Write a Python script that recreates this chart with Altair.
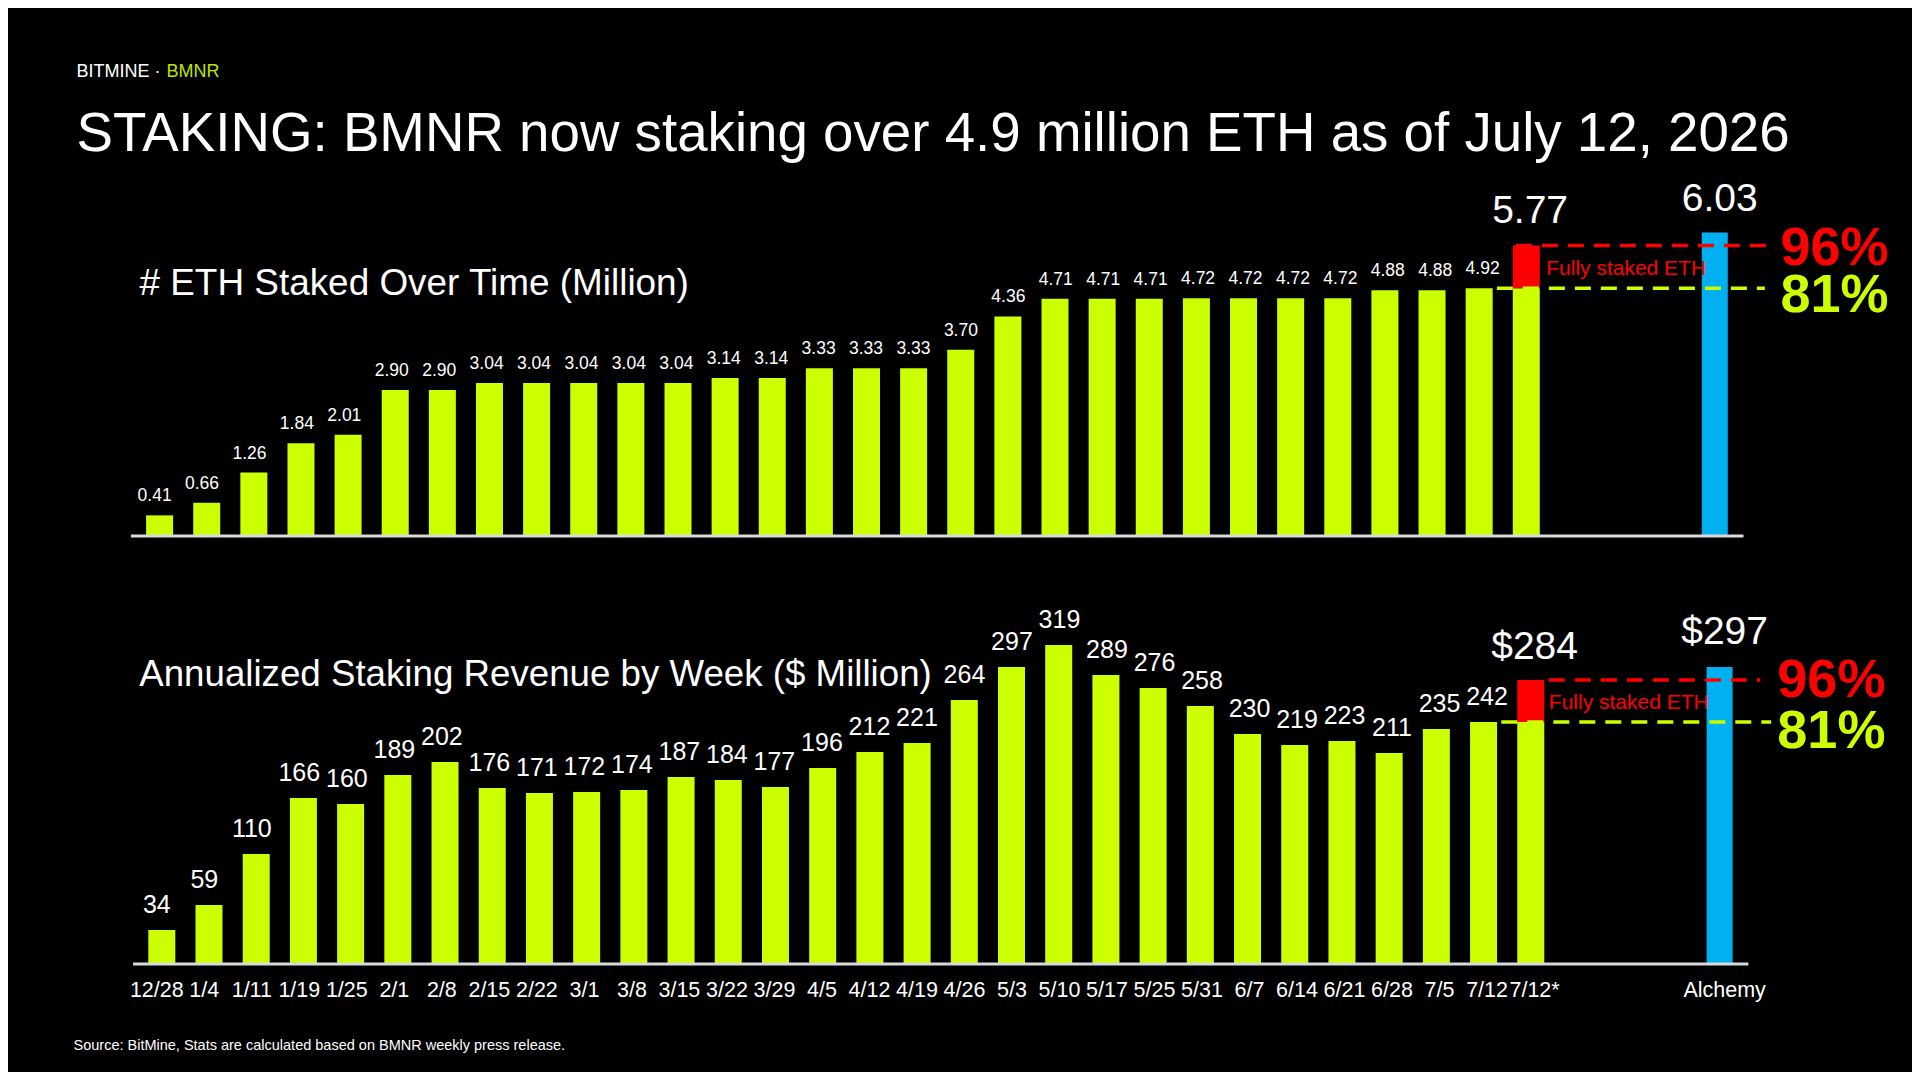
import altair as alt
import pandas as pd

# ---------------- data ----------------
weeks = ["12/28", "1/4", "1/11", "1/19", "1/25", "2/1", "2/8", "2/15", "2/22", "3/1",
         "3/8", "3/15", "3/22", "3/29", "4/5", "4/12", "4/19", "4/26", "5/3", "5/10",
         "5/17", "5/25", "5/31", "6/7", "6/14", "6/21", "6/28", "7/5", "7/12"]
eth_staked = [0.41, 0.66, 1.26, 1.84, 2.01, 2.90, 2.90, 3.04, 3.04, 3.04,
              3.04, 3.04, 3.14, 3.14, 3.33, 3.33, 3.33, 3.70, 4.36, 4.71,
              4.71, 4.71, 4.72, 4.72, 4.72, 4.72, 4.88, 4.88, 4.92]
revenue = [34, 59, 110, 166, 160, 189, 202, 176, 171, 172,
           174, 187, 184, 177, 196, 212, 221, 264, 297, 319,
           289, 276, 258, 230, 219, 223, 211, 235, 242]
latest_label = "7/12*"
eth_full = 5.77
rev_full = 284
alchemy_label = "Alchemy"
alchemy_eth = 6.03
alchemy_rev = 297
pct_full = "96%"
pct_now = "81%"

LATEST_I = len(weeks)        # 29
ALCHEMY_I = LATEST_I + 4     # 33

LIME = "#CCFF00"
RED = "#FF0000"
BLUE = "#00B0F0"
WHITE = "#FFFFFF"
FONT = "Liberation Sans"
W, H = 1904, 1064
OFF = 8


def px(v):
    return v - OFF


# scales (data -> pixels through Vega scales)
x_top = alt.Scale(domain=[0, ALCHEMY_I], range=[px(154.6), px(1719.8)], nice=False, zero=False)
y_top = alt.Scale(domain=[0, 6], range=[px(536), px(536 - 6 * 50.35)], nice=False)
x_bot = alt.Scale(domain=[0, ALCHEMY_I], range=[px(156.8), px(1724.6)], nice=False, zero=False)
y_bot = alt.Scale(domain=[0, 300], range=[px(964), px(664)], nice=False)


def X(field, sc):
    return alt.X(field, type="quantitative", scale=sc, axis=None)


def Y(field, sc):
    return alt.Y(field, type="quantitative", scale=sc, axis=None)


def text_block(txt, x, y, size, color=WHITE, weight="normal", align="left"):
    return alt.Chart(pd.DataFrame({"t": [txt]})).mark_text(
        font=FONT, fontSize=size, color=color, fontWeight=weight,
        align=align, baseline="alphabetic"
    ).encode(x=alt.value(px(x)), y=alt.value(px(y)), text="t:N")


def panel(values, full, alch, xs, ys, fmt, lab_size, lab_dy, big_labels, big_dy_latest, big_dy_alch,
          red_span, green_span, note_x, pct_x, pct_dy_full, pct_dy_now):
    out = []
    df = pd.DataFrame({"i": list(range(len(values))), "v": values})
    out.append(alt.Chart(df).mark_bar(color=LIME, size=27, orient="vertical").encode(
        x=X("i", xs), y=Y("v", ys)))
    # latest week: current staked (lime) + remaining to fully staked (red)
    ldf = pd.DataFrame({"i": [LATEST_I], "zero": [0], "lo": [values[-1]], "hi": [full],
                        "lab": [big_labels[0]]})
    out.append(alt.Chart(ldf).mark_bar(color=LIME, size=27, orient="vertical").encode(
        x=X("i", xs), y=Y("zero", ys), y2="lo"))
    out.append(alt.Chart(ldf).mark_bar(color=RED, size=27, orient="vertical").encode(
        x=X("i", xs), y=Y("lo", ys), y2="hi"))
    # alchemy bar
    adf = pd.DataFrame({"i": [ALCHEMY_I], "v": [alch], "lab": [big_labels[1]]})
    out.append(alt.Chart(adf).mark_bar(color=BLUE, size=26, orient="vertical").encode(
        x=X("i", xs), y=Y("v", ys)))
    # baseline
    bdf = pd.DataFrame({"a": [-0.5], "b": [ALCHEMY_I + 0.5], "y": [0]})
    out.append(alt.Chart(bdf).mark_rule(color="#d9d9d9", strokeWidth=3).encode(
        x=X("a", xs), x2="b", y=Y("y", ys)))
    # dashed reference lines
    rdf = pd.DataFrame({"a": [red_span[0]], "b": [red_span[1]], "y": [full]})
    out.append(alt.Chart(rdf).mark_rule(color=RED, strokeWidth=3.5, strokeDash=[16, 10]).encode(
        x=X("a", xs), x2="b", y=Y("y", ys)))
    gdf = pd.DataFrame({"a": [green_span[0]], "b": [green_span[1]], "y": [values[-1]]})
    out.append(alt.Chart(gdf).mark_rule(color=LIME, strokeWidth=3.5, strokeDash=[16, 10]).encode(
        x=X("a", xs), x2="b", y=Y("y", ys)))
    # value labels
    out.append(alt.Chart(df).mark_text(font=FONT, fontSize=lab_size, color=WHITE,
                                       baseline="alphabetic", dy=lab_dy).encode(
        x=X("i", xs), y=Y("v", ys), text=alt.Text("v:Q", format=fmt)))
    # big labels
    out.append(alt.Chart(ldf).mark_text(font=FONT, fontSize=39, color=WHITE,
                                        baseline="alphabetic", dy=big_dy_latest).encode(
        x=X("i", xs), y=Y("hi", ys), text="lab:N"))
    out.append(alt.Chart(adf).mark_text(font=FONT, fontSize=39, color=WHITE,
                                        baseline="alphabetic", dy=big_dy_alch).encode(
        x=X("i", xs), y=Y("v", ys), text="lab:N"))
    # note
    ndf = pd.DataFrame({"x": [note_x], "y": [(values[-1] + full) / 2], "t": ["Fully staked ETH"]})
    out.append(alt.Chart(ndf).mark_text(font=FONT, fontSize=21, color=RED, align="left",
                                        baseline="middle", dy=2).encode(
        x=X("x", xs), y=Y("y", ys), text="t:N"))
    # percentages
    pdf1 = pd.DataFrame({"x": [pct_x], "y": [full], "t": [pct_full]})
    out.append(alt.Chart(pdf1).mark_text(font=FONT, fontSize=54, fontWeight="bold", color=RED,
                                         align="left", baseline="middle", dy=pct_dy_full).encode(
        x=X("x", xs), y=Y("y", ys), text="t:N"))
    pdf2 = pd.DataFrame({"x": [pct_x], "y": [values[-1]], "t": [pct_now]})
    out.append(alt.Chart(pdf2).mark_text(font=FONT, fontSize=54, fontWeight="bold", color=LIME,
                                         align="left", baseline="middle", dy=pct_dy_now).encode(
        x=X("x", xs), y=Y("y", ys), text="t:N"))
    return out


layers = []
layers += panel(eth_staked, eth_full, alchemy_eth, x_top, y_top, ".2f", 17.5, -14,
                [format(eth_full, ".2f"), format(alchemy_eth, ".2f")],
                -22, -21, (28.7, 34.0), (28.3, 33.95), 29.34, 34.28, 4, 8)
layers += panel(revenue, rev_full, alchemy_rev, x_bot, y_bot, "d", 25, -17,
                ["$" + str(rev_full), "$" + str(alchemy_rev)],
                -21, -23, (29.3, 33.75), (28.3, 33.98), 29.30, 34.11, 1, 10)

# x-axis labels (bottom panel)
xl = pd.DataFrame({"i": list(range(len(weeks))) + [LATEST_I, ALCHEMY_I],
                   "t": weeks + [latest_label, alchemy_label]})
layers.append(alt.Chart(xl).mark_text(font=FONT, fontSize=21.5, color=WHITE,
                                      baseline="alphabetic").encode(
    x=X("i", x_bot), y=alt.value(px(997)), text="t:N"))

# titles and text
layers.append(text_block("BITMINE · ", 76.5, 77.3, 18))
layers.append(text_block("BMNR", 166.6, 77.3, 18, color="#BFE000"))
layers.append(text_block("STAKING: BMNR now staking over 4.9 million ETH as of July 12, 2026",
                         76.5, 150.7, 54.7))
layers.append(text_block("# ETH Staked Over Time (Million)", 139.5, 295, 36.9))
layers.append(text_block("Annualized Staking Revenue by Week ($ Million)", 139.2, 686, 36.7))
layers.append(text_block("Source: BitMine, Stats are calculated based on BMNR weekly press release.",
                         73.5, 1050, 14.5))

chart = alt.layer(*layers).resolve_scale(x="independent", y="independent").properties(
    width=W, height=H, background="black", padding=0,
    autosize=alt.AutoSizeParams(type="none")
).configure_view(stroke=None)

chart.save("out.html", embed_options={"renderer": "svg", "actions": False})
